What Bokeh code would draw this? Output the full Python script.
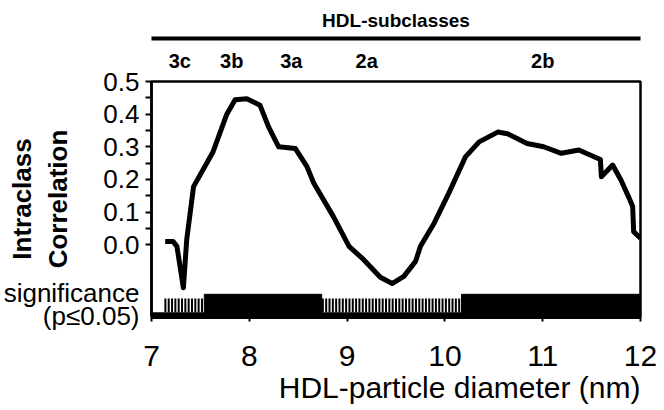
import numpy as np
from bokeh.plotting import figure
from bokeh.models import (FixedTicker, Range1d, ColumnDataSource,
                          LinearAxis, PrintfTickFormatter, Title)
from bokeh.embed import file_html
from bokeh.resources import INLINE

# ---- data ----
diameter_nm = [7.14, 7.22, 7.26, 7.326, 7.36, 7.43, 7.63, 7.77, 7.855, 7.975,
               8.11, 8.197, 8.30, 8.47, 8.59, 8.66, 8.86, 9.02, 9.17, 9.34,
               9.46, 9.58, 9.70, 9.75, 9.89, 10.04, 10.21, 10.35, 10.54, 10.64,
               10.84, 11.01, 11.19, 11.37, 11.49, 11.59, 11.60, 11.715, 11.80,
               11.885, 11.92, 11.93, 12.0]
intraclass_corr = [0.010, 0.010, -0.005, -0.132, 0.015, 0.178, 0.285, 0.400, 0.444, 0.447,
                   0.427, 0.361, 0.300, 0.295, 0.239, 0.188, 0.086, -0.005, -0.046, -0.100,
                   -0.119, -0.097, -0.051, -0.005, 0.066, 0.158, 0.269, 0.315, 0.345, 0.340,
                   0.310, 0.300, 0.280, 0.290, 0.274, 0.261, 0.208, 0.244, 0.198,
                   0.142, 0.117, 0.040, 0.020]

subclass_names = ["3c", "3b", "3a", "2a", "2b"]
subclass_pos = [7.29, 7.82, 8.43, 9.2, 11.0]

sig_start = [7.13, 7.54, 8.74, 10.17]
sig_end = [7.54, 8.74, 10.17, 12.0]
sig_significant = [False, True, False, True]
sig_caption = ["significance", "(p\u22640.05)"]
sig_caption_pos = [-0.147, -0.2185]

x_ticks = [7, 8, 9, 10, 11, 12]
y_ticks = [0.0, 0.1, 0.2, 0.3, 0.4, 0.5]
y_minor = [0.05, 0.15, 0.25, 0.35, 0.45]

FONT = "Liberation Sans"
INK = "black"

p = figure(width=664, height=410, x_range=Range1d(7, 12), y_range=Range1d(-0.22, 0.5),
           output_backend="svg", toolbar_location=None,
           min_border_left=151, min_border_right=24, min_border_top=81, min_border_bottom=94)
p.grid.visible = False
p.outline_line_color = INK
p.outline_line_width = 2.5
p.background_fill_color = "white"
p.border_fill_color = "white"

# x axis
xa = p.xaxis[0]
xa.ticker = FixedTicker(ticks=x_ticks)
xa.axis_line_width = 5
xa.axis_line_color = INK
xa.major_tick_in = 0
xa.major_tick_out = 5
xa.major_tick_line_width = 2
xa.major_tick_line_color = INK
xa.minor_tick_line_color = None
xa.major_label_text_font = FONT
xa.major_label_text_font_size = "30px"
xa.major_label_text_color = INK
xa.major_label_standoff = 24

# x-axis caption, right-aligned under the axis as in the reference
p.add_layout(Title(text="HDL-particle diameter (nm)", align="right", standoff=0,
                   text_font=FONT, text_font_size="30px", text_font_style="normal",
                   text_color=INK), "below")

# y axis: numeric ticks plus the significance caption as labelled ticks
ya = p.yaxis[0]
ya.ticker = FixedTicker(ticks=y_ticks + sig_caption_pos, minor_ticks=y_ticks + y_minor)
ya.formatter = PrintfTickFormatter(format="%.1f")
ya.major_label_overrides = dict(zip(sig_caption_pos, sig_caption))
ya.axis_line_width = 2.5
ya.axis_line_color = INK
ya.major_tick_in = 0
ya.major_tick_out = 0
ya.minor_tick_in = 0
ya.minor_tick_out = 6
ya.minor_tick_line_width = 2
ya.minor_tick_line_color = INK
ya.major_label_text_font = FONT
ya.major_label_text_font_size = "26px"
ya.major_label_text_color = INK
ya.major_label_standoff = 6
ya.axis_label = "Intraclass\nCorrelation"
ya.axis_label_text_font = FONT
ya.axis_label_text_font_size = "26px"
ya.axis_label_text_font_style = "bold"
ya.axis_label_text_color = INK
ya.axis_label_standoff = -72

# header: subclass labels, thick rule and title, drawn as axes above the frame
sub_axis = LinearAxis(ticker=FixedTicker(ticks=subclass_pos),
                      major_label_overrides=dict(zip(subclass_pos, subclass_names)),
                      axis_line_color=None, major_tick_line_color=None,
                      minor_tick_line_color=None, major_tick_out=0, minor_tick_out=0,
                      major_tick_in=0, minor_tick_in=0,
                      major_label_text_font=FONT, major_label_text_font_size="20px",
                      major_label_text_font_style="bold", major_label_text_color=INK,
                      major_label_standoff=10,
                      axis_label=" ", axis_label_text_font_size="4px", axis_label_standoff=0)
p.add_layout(sub_axis, "above")
head_axis = LinearAxis(ticker=FixedTicker(ticks=[]), axis_line_width=4, axis_line_color=INK,
                       major_tick_line_color=None, minor_tick_line_color=None,
                       major_tick_out=0, minor_tick_out=0, major_tick_in=0, minor_tick_in=0,
                       major_label_text_font_size="0px", major_label_standoff=0,
                       axis_label="HDL-subclasses", axis_label_text_font=FONT,
                       axis_label_text_font_size="19px", axis_label_text_font_style="bold",
                       axis_label_text_color=INK, axis_label_standoff=8)
p.add_layout(head_axis, "above")

# significance bar
solid = ColumnDataSource(dict(
    left=[s for s, k in zip(sig_start, sig_significant) if k],
    right=[e for e, k in zip(sig_end, sig_significant) if k]))
p.quad(left="left", right="right", bottom=-0.22, top=-0.152, source=solid,
       fill_color=INK, line_color=INK, line_width=1)
hx = []
for s, e, k in zip(sig_start, sig_end, sig_significant):
    if not k:
        hx.extend(np.arange(s + 0.012, e, 0.034).tolist())
p.segment(x0=hx, x1=hx, y0=[-0.207] * len(hx), y1=[-0.165] * len(hx),
          line_color=INK, line_width=2)
p.segment(x0=[7.0], x1=[12.0], y0=[-0.213], y1=[-0.213], line_color=INK, line_width=4)

# correlation curve
p.line(diameter_nm, intraclass_corr, line_color=INK, line_width=5, line_join="round")

open("out.html", "w").write(file_html(p, INLINE))
